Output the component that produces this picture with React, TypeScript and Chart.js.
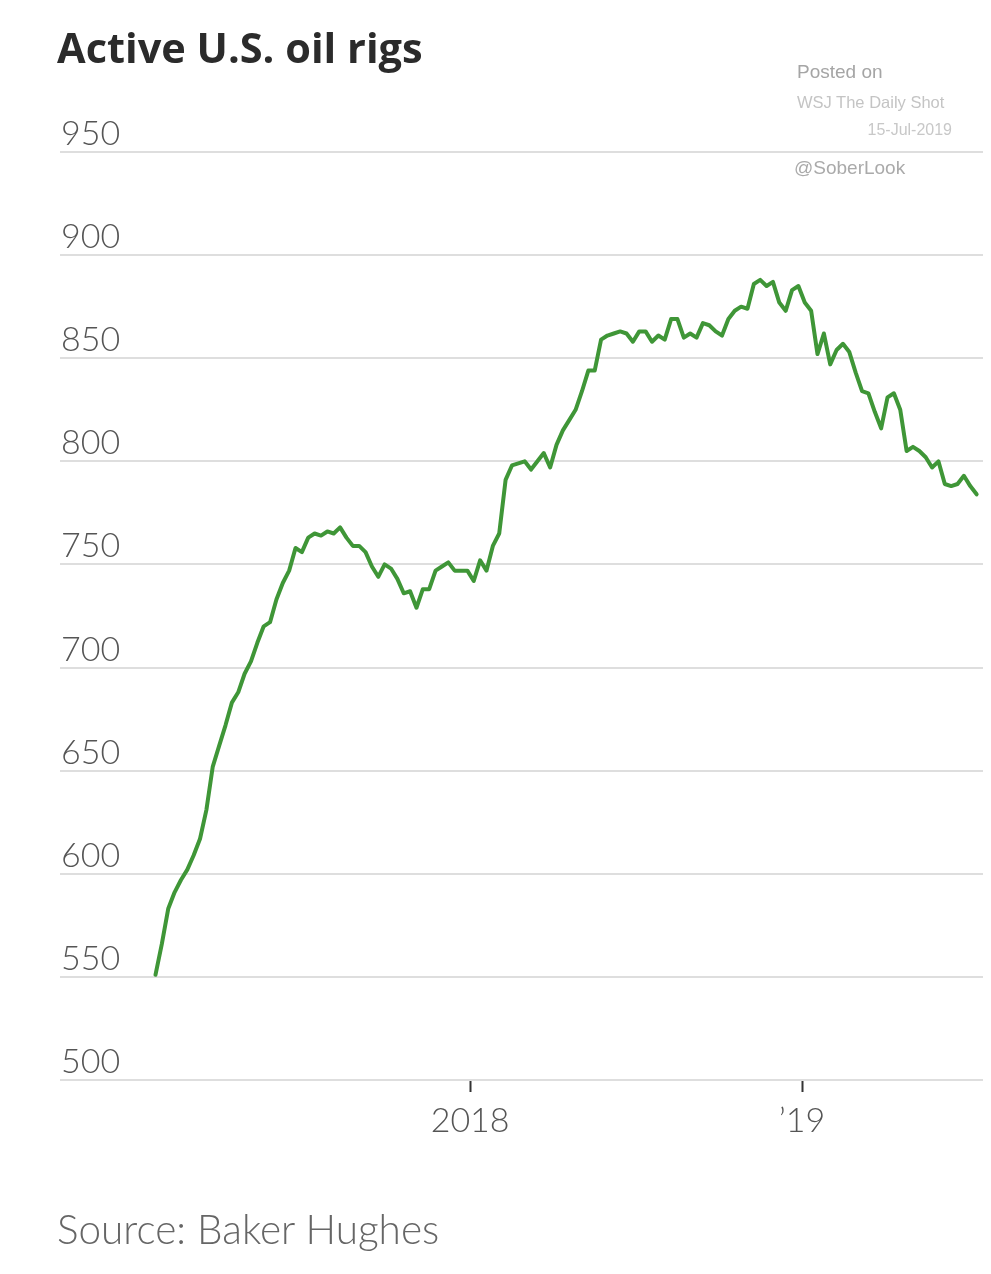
import React, { useEffect, useRef } from "react";
import { Chart, registerables } from "chart.js";

Chart.register(...registerables);

// Weekly Baker Hughes U.S. oil rig counts, first point Friday 20 Jan 2017 (day 19 counted from 1 Jan 2017)
const firstDay = 19;
const weekStep = 7;

const rigs2017 = [
  551, 566, 583, 591, 597, 602, 609, 617, 631, 652, 662, 672, 683, 688, 697, 703,
  712, 720, 722, 733, 741, 747, 758, 756, 763, 765, 764, 766, 765, 768, 763, 759,
  759, 756, 749, 744, 750, 748, 743, 736, 737, 729, 738, 738, 747, 749, 751, 747,
  747, 747,
];
const rigs2018 = [
  742, 752, 747, 759, 765, 791, 798, 799, 800, 796, 800, 804, 797, 808, 815, 820,
  825, 834, 844, 844, 859, 861, 862, 863, 862, 858, 863, 863, 858, 861, 859, 869,
  869, 860, 862, 860, 867, 866, 863, 861, 869, 873, 875, 874, 886, 888, 885, 887,
  877, 873, 883, 885,
];
const rigs2019 = [
  877, 873, 852, 862, 847, 854, 857, 853, 843, 834, 833, 824, 816, 831, 833, 825,
  805, 807, 805, 802, 797, 800, 789, 788, 789, 793, 788, 784,
];

const xTickDays = [365, 730];
const xTickLabels = ["2018", "\u201919"];
const yTicks = [500, 550, 600, 650, 700, 750, 800, 850, 900, 950];

const title = "Active U.S. oil rigs";
const source = "Source: Baker Hughes";

const markStyle = {
  position: "absolute" as const,
  fontFamily: "'Liberation Sans', Arial, sans-serif",
  whiteSpace: "nowrap" as const,
};

export default function App() {
  const canvasRef = useRef<HTMLCanvasElement | null>(null);

  useEffect(() => {
    const canvas = canvasRef.current;
    if (!canvas) return;
    const values = [...rigs2017, ...rigs2018, ...rigs2019];
    const points = values.map((v, i) => ({ x: firstDay + i * weekStep, y: v }));

    const chart = new Chart(canvas, {
      type: "line",
      data: {
        datasets: [
          {
            data: points,
            borderColor: "#3f9637",
            borderWidth: 4,
            pointRadius: 0,
            tension: 0,
            borderJoinStyle: "round",
            borderCapStyle: "round",
            fill: false,
          },
        ],
      },
      options: {
        animation: false,
        responsive: false,
        maintainAspectRatio: false,
        layout: { padding: { left: 60, top: 152, right: 8, bottom: 134 } },
        plugins: {
          legend: { display: false },
          tooltip: { enabled: false },
          title: { display: false },
        },
        scales: {
          x: {
            type: "linear",
            min: -86,
            max: 929,
            afterFit: (s: any) => {
              s.height = 60;
            },
            afterBuildTicks: (s: any) => {
              s.ticks = xTickDays.map((v) => ({ value: v }));
            },
            ticks: {
              autoSkip: false,
              maxRotation: 0,
              padding: 9,
              color: "#555",
              font: { family: "Lato", size: 34, weight: "300" },
              callback: (v: any) => {
                const idx = xTickDays.indexOf(Number(v));
                return idx >= 0 ? xTickLabels[idx] : "";
              },
            },
            grid: {
              drawOnChartArea: false,
              drawTicks: true,
              tickLength: 12,
              tickColor: "#333",
              tickWidth: 2,
            },
            border: { display: false },
          },
          y: {
            type: "linear",
            min: 500,
            max: 950,
            afterFit: (s: any) => {
              s.width = 0;
            },
            afterBuildTicks: (s: any) => {
              s.ticks = yTicks.map((v) => ({ value: v }));
            },
            ticks: {
              mirror: true,
              padding: 1,
              labelOffset: -18,
              color: "#555",
              font: { family: "Lato", size: 34, weight: "300" },
            },
            grid: {
              color: "#dedede",
              lineWidth: 2,
              drawTicks: false,
            },
            border: { display: false },
          },
        },
      },
    });
    return () => chart.destroy();
  }, []);

  return (
    <div
      style={{
        position: "absolute",
        left: 0,
        top: 0,
        width: 991,
        height: 1274,
        background: "#fff",
        overflow: "hidden",
      }}
    >
      <canvas
        ref={canvasRef}
        width={991}
        height={1274}
        style={{ position: "absolute", left: 0, top: 0, width: 991, height: 1274 }}
      />
      <div
        style={{
          position: "absolute",
          left: 57,
          top: 22,
          fontFamily: "'Open Sans', sans-serif",
          fontWeight: 700,
          fontSize: 41.5,
          color: "#2b2b2b",
          lineHeight: "50px",
          whiteSpace: "nowrap",
        }}
      >
        {title}
      </div>
      <div
        style={{
          position: "absolute",
          left: 57,
          top: 1204,
          fontFamily: "Lato, sans-serif",
          fontWeight: 300,
          fontSize: 40.5,
          color: "#666",
          lineHeight: "50px",
          whiteSpace: "nowrap",
        }}
      >
        {source}
      </div>
      <div style={{ ...markStyle, left: 797, top: 61, fontSize: 19, color: "#a5a5a5" }}>
        Posted on
      </div>
      <div style={{ ...markStyle, left: 797, top: 93, fontSize: 16.5, color: "#c4c4c4" }}>
        WSJ The Daily Shot
      </div>
      <div
        style={{
          ...markStyle,
          left: 797,
          top: 121,
          width: 155,
          textAlign: "right",
          fontSize: 16,
          color: "#c8c8c8",
        }}
      >
        15-Jul-2019
      </div>
      <div style={{ ...markStyle, left: 794, top: 157, fontSize: 19, color: "#aaaaaa" }}>
        @SoberLook
      </div>
    </div>
  );
}
